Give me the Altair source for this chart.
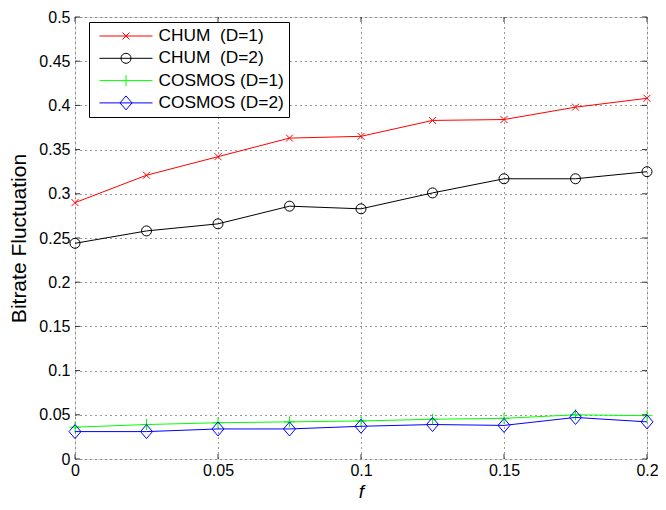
import altair as alt
import pandas as pd

# ---- data ----
f_values = [0, 0.025, 0.05, 0.075, 0.1, 0.125, 0.15, 0.175, 0.2]
chum_d1 = [0.290, 0.321, 0.342, 0.363, 0.365, 0.383, 0.384, 0.398, 0.408]
chum_d2 = [0.244, 0.258, 0.266, 0.286, 0.283, 0.301, 0.317, 0.317, 0.325]
cosmos_d1 = [0.036, 0.039, 0.041, 0.042, 0.043, 0.045, 0.046, 0.050, 0.049]
cosmos_d2 = [0.031, 0.031, 0.034, 0.034, 0.037, 0.039, 0.038, 0.047, 0.042]

series_names = ["CHUM\u00a0 (D=1)", "CHUM\u00a0 (D=2)", "COSMOS (D=1)", "COSMOS (D=2)"]
series_values = [chum_d1, chum_d2, cosmos_d1, cosmos_d2]
series_colors = ["#ff0000", "#000000", "#00ff00", "#0000ff"]

x_ticks = [0, 0.05, 0.1, 0.15, 0.2]
y_ticks = [0, 0.05, 0.1, 0.15, 0.2, 0.25, 0.3, 0.35, 0.4, 0.45, 0.5]

# marker shapes (unit square paths, plot markers drawn at size 100 -> 5 px per unit)
marker_paths = [
    "M-0.7,-0.7L0.7,0.7M-0.7,0.7L0.7,-0.7",
    "M1,0A1,1,0,1,1,-1,0A1,1,0,1,1,1,0Z",
    "M-1.1,0L1.1,0M0,-1.1L0,1.1",
    "M0,-1.4L1.2,0L0,1.4L-1.2,0Z",
]
# legend symbols drawn at size 289 -> 8.5 px per unit (line plus marker)
legend_paths = [
    "M-3.12,0L3.12,0M-0.41,-0.41L0.41,0.41M-0.41,0.41L0.41,-0.41",
    "M-3.12,0L3.12,0M0.59,0A0.59,0.59,0,1,1,-0.59,0A0.59,0.59,0,1,1,0.59,0Z",
    "M-3.12,0L3.12,0M0,-0.65L0,0.65",
    "M-3.12,0L3.12,0M0,-0.82L0.71,0L0,0.82L-0.71,0Z",
]

rows = []
for name, vals in zip(series_names, series_values):
    for fx, v in zip(f_values, vals):
        rows.append({"f": fx, "value": v, "series": name})
df = pd.DataFrame(rows)

W, H = 572, 442
PAD = {"left": 67, "top": 9, "right": 11, "bottom": 43}
FONT = "Liberation Sans"

x_scale = alt.Scale(domain=[0, 0.2], nice=False, zero=False)
y_scale = alt.Scale(domain=[0, 0.5], nice=False, zero=False)

x_axis = alt.Axis(values=x_ticks, format="~g", grid=True, gridDash=[1, 4], gridColor="#333",
                  tickSize=0, domain=False, labelPadding=3, labelFontSize=16, labelFont=FONT,
                  labelColor="black", title="f", titleFont=FONT, titleFontSize=19,
                  titleFontStyle="italic", titleFontWeight="normal", titleColor="black",
                  titleY=38.5, titleBaseline="alphabetic", labelFlush=False)
y_axis = alt.Axis(values=y_ticks, format="~g", grid=True, gridDash=[1, 4], gridColor="#333",
                  tickSize=0, domain=False, labelPadding=5, labelFontSize=16, labelFont=FONT,
                  labelColor="black", title="Bitrate Fluctuation", titleFont=FONT,
                  titleFontSize=21, titleFontWeight="normal", titleColor="black",
                  titleX=-56, titleY=H / 2, titleAlign="center", titleBaseline="middle",
                  labelFlush=False)

X = alt.X("f:Q", scale=x_scale, axis=x_axis)
Y = alt.Y("value:Q", scale=y_scale, axis=y_axis)

base = alt.Chart(df)

layers = []
for name, color, path in zip(series_names, series_colors, marker_paths):
    sub = base.transform_filter(alt.datum.series == name)
    layers.append(sub.mark_line(color=color, strokeWidth=1).encode(x=X, y=Y))
    layers.append(sub.mark_point(shape=path, color=color, filled=False, size=100,
                                 strokeWidth=1, opacity=1).encode(x=X, y=Y))

# inward tick marks on all four sides
yt = alt.Chart(pd.DataFrame({"value": y_ticks}))
xt = alt.Chart(pd.DataFrame({"f": x_ticks}))
tick_color = "#333"
layers.append(yt.mark_rule(color=tick_color).encode(y=Y, x=alt.value(0), x2=alt.value(5)))
layers.append(yt.mark_rule(color=tick_color).encode(y=Y, x=alt.value(W - 5), x2=alt.value(W)))
layers.append(xt.mark_rule(color=tick_color).encode(x=X, y=alt.value(H), y2=alt.value(H - 5)))
layers.append(xt.mark_rule(color=tick_color).encode(x=X, y=alt.value(0), y2=alt.value(5)))

# legend layer (draws no marks, only provides the legend)
legend = alt.Legend(orient="none", legendX=14, legendY=5, title=None, labelFont=FONT,
                    labelFontSize=17.3, labelColor="black", symbolSize=289, symbolStrokeWidth=1,
                    symbolOffset=23, labelOffset=23.5, padding=5, rowPadding=4.3,
                    strokeColor="black", fillColor="white")
legend_layer = base.transform_filter("false").mark_point(filled=False, size=289, strokeWidth=1,
                                                         opacity=1).encode(
    x=X, y=Y,
    color=alt.Color("series:N", scale=alt.Scale(domain=series_names, range=series_colors),
                    legend=legend),
    shape=alt.Shape("series:N", scale=alt.Scale(domain=series_names, range=legend_paths),
                    legend=legend),
)
layers.append(legend_layer)

chart = alt.layer(*layers).properties(
    width=W, height=H, autosize="none", padding=PAD,
).configure_view(stroke="#333", strokeWidth=1).configure(background="white")

chart.save("out.html", embed_options={"renderer": "svg", "actions": False})
